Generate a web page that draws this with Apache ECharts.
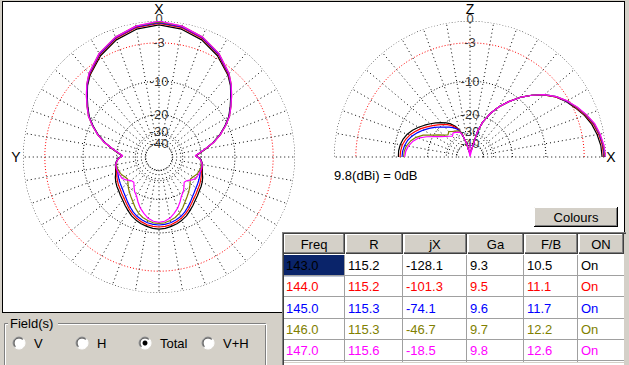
<!DOCTYPE html>
<html><head><meta charset="utf-8">
<script src="https://cdn.jsdelivr.net/npm/echarts@6/dist/echarts.min.js"></script>
<style>html,body{margin:0;padding:0;background:#ffffff;}#c{width:629px;height:365px;}</style>
</head><body><div id="c"></div>
<script>
// ---------- DATA ----------
const freqs = ['143.0','144.0','145.0','146.0','147.0'];
const colors = ['#000000','#ff0000','#0000ff','#808000','#ff00ff'];
const valR  = ['115.2','115.2','115.3','115.3','115.6'];
const valJX = ['-128.1','-101.3','-74.1','-46.7','-18.5'];
const valGa = ['9.3','9.5','9.6','9.7','9.8'];
const valFB = ['10.5','11.1','11.7','12.2','12.6'];
const valON = ['On','On','On','On','On'];
const headers = ['Freq','R','jX','Ga','F/B','ON'];
const ringLevels = [0,-3,-10,-20,-30,-40];
const ringLabels = ['0','-3','-10','-20','-30','-40'];
const radioLabels = ['V','H','Total','V+H'];

// azimuth (horizontal) pattern, angle from X clockwise, dB
const azAngles = [0,10,20,30,40,45,50,55,60,65,70,75,80,84,88,92,96,100,105,110,115,120,125,130,135,140,145,150,155,160,165,170,175,180,
 185,190,195,200,205,210,215,220,225,230,235,240,245,250,255,260,264,268,272,276,280,285,290,295,300,305,310,315,320,330,340,350,360];
const az143 = [-0.5,-0.8,-1.5,-2.6,-4.1,-5.1,-6.4,-7.7,-9.0,-10.8,-12.8,-15.2,-18.0,-20.3,-22.3,-20.6,-19.8,-19.3,-19.0,-18.6,-17.8,-17.2,-16.7,-16.3,-15.7,-15.1,-14.3,-13.5,-12.7,-12.1,-11.6,-11.3,-11.0,-10.9,
 -11.0,-11.3,-11.6,-12.1,-12.7,-13.5,-14.3,-15.1,-15.7,-16.3,-16.7,-17.2,-17.8,-18.6,-19.0,-19.3,-19.8,-20.6,-22.3,-20.3,-18.0,-15.2,-12.8,-10.8,-9.0,-7.7,-6.4,-5.1,-4.1,-2.6,-1.5,-0.8,-0.5];
const az144 = [-0.3,-0.6,-1.3,-2.4,-4.0,-5.0,-6.3,-7.6,-8.9,-10.7,-12.7,-15.1,-18.1,-20.4,-22.4,-20.7,-19.9,-19.4,-19.2,-19.0,-18.4,-17.9,-17.4,-17.0,-16.4,-15.8,-15.0,-14.1,-13.3,-12.6,-12.1,-11.7,-11.5,-11.4,
 -11.5,-11.7,-12.1,-12.6,-13.3,-14.1,-15.0,-15.8,-16.4,-17.0,-17.4,-17.9,-18.4,-19.0,-19.2,-19.4,-19.9,-20.7,-22.4,-20.4,-18.1,-15.1,-12.7,-10.7,-8.9,-7.6,-6.3,-5.0,-4.0,-2.4,-1.3,-0.6,-0.3];
const az145 = [-0.2,-0.5,-1.2,-2.3,-3.9,-5.0,-6.3,-7.6,-8.9,-10.7,-12.7,-15.1,-18.1,-20.5,-22.5,-20.7,-19.9,-19.5,-19.4,-19.4,-19.0,-18.6,-18.2,-17.8,-17.2,-16.5,-15.6,-14.7,-13.8,-13.1,-12.6,-12.2,-12.0,-11.9,
 -12.0,-12.2,-12.6,-13.1,-13.8,-14.7,-15.6,-16.5,-17.2,-17.8,-18.2,-18.6,-19.0,-19.4,-19.4,-19.5,-19.9,-20.7,-22.5,-20.5,-18.1,-15.1,-12.7,-10.7,-8.9,-7.6,-6.3,-5.0,-3.9,-2.3,-1.2,-0.5,-0.2];
const az146 = [-0.1,-0.4,-1.1,-2.2,-3.8,-4.9,-6.2,-7.5,-8.8,-10.6,-12.6,-15.0,-18.1,-20.5,-22.6,-20.8,-20.0,-19.6,-19.7,-20.0,-20.4,-21.2,-21.7,-20.8,-19.6,-18.6,-17.6,-16.5,-15.2,-14.1,-13.3,-12.8,-12.4,-12.3,
 -12.4,-12.8,-13.3,-14.1,-15.2,-16.5,-17.6,-18.6,-19.6,-20.8,-21.7,-21.2,-20.4,-20.0,-19.7,-19.6,-20.0,-20.8,-22.6,-20.5,-18.1,-15.0,-12.6,-10.6,-8.8,-7.5,-6.2,-4.9,-3.8,-2.2,-1.1,-0.4,-0.1];
const az147 = [0,-0.4,-1.1,-2.2,-3.8,-4.9,-6.2,-7.5,-8.8,-10.6,-12.6,-15.0,-18.2,-20.6,-22.7,-20.8,-20.0,-19.4,-19.3,-19.5,-19.7,-19.9,-21.0,-22.5,-23.0,-21.5,-20.0,-19.0,-17.3,-15.7,-14.5,-13.4,-12.8,-12.6,
 -12.8,-13.4,-14.5,-15.7,-17.3,-19.0,-20.0,-21.5,-23.0,-22.5,-21.0,-19.9,-19.7,-19.5,-19.3,-19.4,-20.0,-20.8,-22.7,-20.6,-18.2,-15.0,-12.6,-10.6,-8.8,-7.5,-6.2,-4.9,-3.8,-2.2,-1.1,-0.4,0];

// elevation (vertical) pattern, angle from X counter-clockwise, dB
const elAngles = [0,5,10,15,20,25,30,35,40,45,50,55,60,65,70,72,74,76,89,90,91,100,104,109,112,115,120,125,130,135,140,145,150,155,160,165,170,175,180];
const el143 = [-0.5,-0.6,-0.9,-1.3,-1.9,-2.7,-3.5,-4.5,-5.9,-7.6,-9.6,-12.0,-14.6,-17.9,-22.3,-25.5,-29.5,-45,-59,-59,-59,-55,-39,-29.5,-26.3,-24.0,-21.8,-20.3,-19.0,-17.8,-16.6,-15.4,-14.2,-13.1,-12.2,-11.6,-11.2,-11.0,-11.0];
const el144 = [-0.3,-0.4,-0.7,-1.1,-1.8,-2.6,-3.4,-4.5,-5.9,-7.6,-9.6,-12.0,-14.6,-17.9,-22.3,-25.5,-29.5,-45,-59,-59,-59,-55,-39,-29.5,-26.6,-24.8,-22.7,-21.2,-20.0,-18.8,-17.6,-16.3,-15.0,-13.9,-12.9,-12.2,-11.7,-11.5,-11.4];
const el145 = [-0.2,-0.3,-0.6,-1.0,-1.7,-2.5,-3.4,-4.4,-5.8,-7.6,-9.6,-12.0,-14.6,-17.9,-22.3,-25.5,-29.5,-45,-59,-59,-59,-55,-39,-29.5,-26.9,-25.4,-23.8,-22.6,-21.4,-20.0,-18.6,-17.2,-15.9,-14.7,-13.6,-12.8,-12.3,-12.0,-11.9];
const el146 = [-0.1,-0.25,-0.55,-0.95,-1.65,-2.45,-3.3,-4.4,-5.8,-7.6,-9.6,-12.0,-14.6,-17.9,-22.3,-25.5,-29.5,-45,-59,-59,-59,-55,-39,-29.5,-27.2,-26.6,-26.0,-25.3,-24.3,-25.3,-23.7,-21.7,-19.4,-16.6,-14.8,-13.6,-12.8,-12.4,-12.3];
const el147 = [0,-0.2,-0.5,-0.9,-1.6,-2.4,-3.3,-4.4,-5.8,-7.6,-9.6,-12.0,-14.6,-17.9,-22.3,-25.5,-29.5,-45,-99,-39,-99,-55,-39,-30,-28.0,-27.5,-26.8,-26.2,-27.6,-26.3,-24.9,-23.0,-20.6,-17.9,-15.5,-14.2,-13.3,-12.8,-12.6];

const azSeries = [az143, az144, az145, az146, az147];
const elSeries = [el143, el144, el145, el146, el147];

// ---------- BUILD ----------
const FONT = 'Arial, "Liberation Sans", sans-serif';
// ARRL log-periodic radial scale (0 dB = outer ring)
function arrl(db){ return Math.pow(0.89, -db / 2); }

const series = [];
function ring(level, a0, a1){ const d=[]; for(let a=a0;a<=a1;a+=2) d.push([arrl(level), a]); return d; }
function spokes(a0, a1){ const d=[]; for(let a=a0;a<=a1;a+=10){ d.push([arrl(-40), a]); d.push([1, a]); d.push(null);} return d; }
const labelNudge = {'0':-3, '-30':-1.5};

[0,1].forEach(p => {
  ringLevels.forEach(lv => {
    series.push({type:'line', coordinateSystem:'polar', polarIndex:p, data: p===0 ? ring(lv,0,360) : ring(lv,0,180),
      showSymbol:false, silent:true, z:1, animation:false,
      lineStyle:{color: lv===-3 ? '#ff0000' : '#000000', width:1, type:[1,2]}});
  });
  series.push({type:'line', coordinateSystem:'polar', polarIndex:p, data: p===0 ? spokes(0,350) : spokes(0,180),
    showSymbol:false, silent:true, z:1, animation:false, connectNulls:false,
    lineStyle:{color:'#000000', width:1, type:[1,3]}});
  if (p === 1) {
    series.push({type:'line', coordinateSystem:'polar', polarIndex:1, data:[[arrl(-40),0],[0,0],[arrl(-40),180]],
      showSymbol:false, silent:true, z:1, animation:false, lineStyle:{color:'#000000', width:1, type:[1,3]}});
  }
  series.push({type:'scatter', coordinateSystem:'polar', polarIndex:p, symbolSize:1, silent:true, z:2, animation:false,
    itemStyle:{color:'rgba(0,0,0,0)'},
    data: ringLevels.map((lv,i) => ({name: ringLabels[i], value:[arrl(lv), p===0 ? 0 : 90],
      label:{offset:[0, labelNudge[ringLabels[i]] || 0]}})),
    label:{show:true, position:'inside', formatter:'{b}', color:'#000', fontSize:13, fontFamily:FONT}});
});

freqs.forEach((f,i) => {
  series.push({type:'line', name:f, coordinateSystem:'polar', polarIndex:0, showSymbol:false, silent:true, animation:false, z:3+i,
    data: azAngles.map((a,k) => [arrl(azSeries[i][k]), a]), lineStyle:{color:colors[i], width:1.2}});
  series.push({type:'line', name:f, coordinateSystem:'polar', polarIndex:1, showSymbol:false, silent:true, animation:false, z:3+i,
    data: elAngles.map((a,k) => [arrl(elSeries[i][k]), a]), lineStyle:{color:colors[i], width:1.2}});
});

// ---------- UI graphics ----------
const G = [];
function txt(x,y,s,o){ o=o||{}; return {type:'text', x:x, y:y, z:o.z||20, silent:true,
  style:{text:s, fill:o.fill||'#000', font:(o.size||13)+'px '+FONT, textAlign:o.align||'left', align:o.align||'left',
         textVerticalAlign:'middle', verticalAlign:'middle'}}; }
function ln(x1,y1,x2,y2,c,z){ return {type:'line', z:z||15, silent:true, shape:{x1:x1,y1:y1,x2:x2,y2:y2}, style:{stroke:c, lineWidth:1}}; }
function rc(x,y,w,h,fill,stroke,z){ return {type:'rect', z:z||10, silent:true, shape:{x:x,y:y,width:w,height:h}, style:{fill:fill, stroke:stroke||null, lineWidth:1}}; }

// window grey outside the white plotting panel
const GREY = '#d4d0c8';
G.push(rc(0,312,283,53,GREY,null,10));
G.push(rc(625,0,4,365,GREY,null,10));
G.push(rc(0,0,629,1,GREY,null,10));
G.push(rc(0,0,2,312,GREY,null,10));
G.push(ln(2,1.5,625,1.5,'#000000')); G.push(ln(2.5,1,2.5,313,'#000000'));
G.push(ln(624.5,1,624.5,232,'#000000')); G.push(ln(2,312.5,283,312.5,'#000000'));
// axis letters
G.push(txt(159,9,'X',{align:'center',size:14,z:2}));
G.push(txt(16,157,'Y',{align:'center',size:14,z:2}));
G.push(txt(470,9,'Z',{align:'center',size:14,z:2}));
G.push(txt(611,157,'X',{align:'center',size:14,z:2}));
G.push(txt(334,175,'9.8(dBi) = 0dB',{z:2}));

// Colours button
G.push(rc(534,207,84,20,GREY,null,10));
G.push(ln(534.5,207.5,617,207.5,'#ffffff')); G.push(ln(534.5,207.5,534.5,226,'#ffffff'));
G.push(ln(535,225.5,617,225.5,'#808080')); G.push(ln(616.5,208,616.5,226,'#808080'));
G.push(ln(534,226.5,618,226.5,'#000000')); G.push(ln(617.5,207,617.5,227,'#000000'));
G.push(txt(576,217,'Colours',{align:'center'}));

// table
const colX = [283,345,403,467,524,578,624];
const hdrY = 234, hdrH = 20, rowY = 255, rowH = 21.2;
G.push(rc(283,232,343,133,'#ffffff',null,10));
G.push(ln(282,232.5,626,232.5,'#808080')); G.push(ln(282.5,232,282.5,365,'#808080'));
G.push(ln(283,233.5,626,233.5,'#404040')); G.push(ln(283.5,233,283.5,365,'#404040'));
G.push(rc(624,234,5,131,GREY,null,11));
G.push(ln(284,362.5,624,362.5,GREY));
for(let c=0;c<6;c++){
  const x0 = colX[c]+1, x1 = colX[c+1];
  G.push(rc(x0,hdrY,x1-x0,hdrH,GREY,null,12));
  G.push(ln(x0,hdrY+0.5,x1-1,hdrY+0.5,'#ffffff')); G.push(ln(x0+0.5,hdrY,x0+0.5,hdrY+hdrH-1,'#ffffff'));
  G.push(ln(x0,hdrY+hdrH-1.5,x1-1,hdrY+hdrH-1.5,'#808080')); G.push(ln(x1-1.5,hdrY,x1-1.5,hdrY+hdrH-1,'#808080'));
  G.push(ln(x0,hdrY+hdrH-0.5,x1,hdrY+hdrH-0.5,'#404040')); G.push(ln(x1-0.5,hdrY,x1-0.5,hdrY+hdrH,'#404040'));
  G.push(txt((colX[c]+colX[c+1])/2, hdrY+hdrH/2, headers[c], {align:'center'}));
}
G.push(rc(284,rowY,colX[1]-284,rowH,'#0a246a',null,12));
for(let k=0;k<5;k++){
  const yb = Math.round(rowY + (k+1)*rowH) - 0.5;
  G.push(ln(284,yb,624,yb,'#a0a0a0',13));
}
for(let c=1;c<6;c++) G.push(ln(colX[c]-0.5,rowY,colX[c]-0.5,362,'#a0a0a0',13));
const cols = [freqs, valR, valJX, valGa, valFB, valON];
for(let k=0;k<5;k++){
  for(let c=0;c<6;c++){
    G.push(txt(colX[c]+3, rowY + k*rowH + rowH/2, cols[c][k], {fill: colors[k]}));
  }
}

// Field(s) group box
G.push(rc(4.5,323.5,261,42,null,'#808080',11));
G.push(rc(5.5,324.5,261,42,null,'#ffffff',11));
G.push(rc(8,316,50,14,GREY,null,12));
G.push(txt(10,323,'Field(s)'));
const radioX = [19,82,145,208];
radioLabels.forEach((s,i) => {
  const cx = radioX[i], cy = 343;
  G.push({type:'circle', z:12, silent:true, shape:{cx:cx,cy:cy,r:6}, style:{fill:'#ffffff', stroke:'#ffffff', lineWidth:1}});
  G.push({type:'arc', z:13, silent:true, shape:{cx:cx,cy:cy,r:6,startAngle:Math.PI*0.75,endAngle:Math.PI*1.75,clockwise:true}, style:{stroke:'#808080', lineWidth:1, fill:null}});
  G.push({type:'arc', z:13, silent:true, shape:{cx:cx,cy:cy,r:5,startAngle:Math.PI*0.75,endAngle:Math.PI*1.75,clockwise:true}, style:{stroke:'#404040', lineWidth:1, fill:null}});
  if (s === 'Total') G.push({type:'circle', z:14, silent:true, shape:{cx:cx,cy:cy,r:2.5}, style:{fill:'#000000'}});
  G.push(txt(cx+15, cy, s));
});

const option = {
  backgroundColor:'#ffffff',
  animation:false,
  polar:[{center:[159,157], radius:136}, {center:[470,157], radius:136}],
  angleAxis:[
    {polarIndex:0, type:'value', min:0, max:360, startAngle:90, clockwise:true, show:false},
    {polarIndex:1, type:'value', min:0, max:360, startAngle:0, clockwise:false, show:false}
  ],
  radiusAxis:[
    {polarIndex:0, type:'value', min:0, max:1, show:false},
    {polarIndex:1, type:'value', min:0, max:1, show:false}
  ],
  series: series,
  graphic: {elements: G}
};
const chart = echarts.init(document.getElementById('c'), null, {renderer:'svg', width:629, height:365});
chart.setOption(option);
</script></body></html>
